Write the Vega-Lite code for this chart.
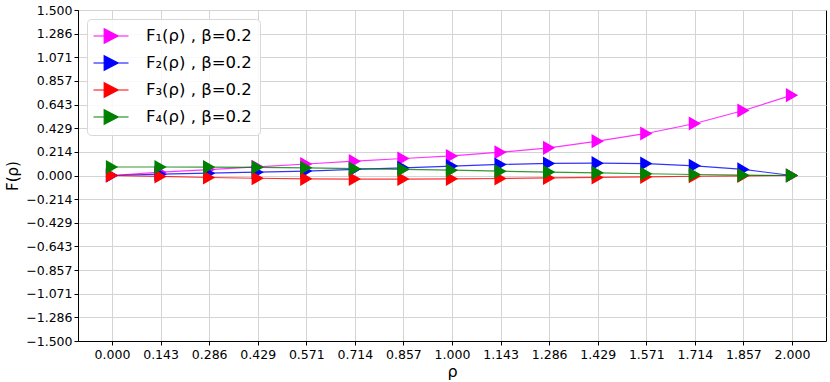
{
  "$schema": "https://vega.github.io/schema/vega-lite/v6.json",
  "width": 748,
  "height": 331,
  "autosize": "none",
  "padding": {"left": 78, "top": 10, "right": 4, "bottom": 41},
  "background": "white",
  "config": {
    "font": "DejaVu Sans",
    "view": {"stroke": "black", "strokeWidth": 1}
  },
  "datasets": {
    "pts": [
      {"rho": 0.0, "F": 0.0, "s": "F₁(ρ) , β=0.2"},
      {"rho": 0.142857, "F": 0.03, "s": "F₁(ρ) , β=0.2"},
      {"rho": 0.285714, "F": 0.054, "s": "F₁(ρ) , β=0.2"},
      {"rho": 0.428571, "F": 0.079, "s": "F₁(ρ) , β=0.2"},
      {"rho": 0.571429, "F": 0.104, "s": "F₁(ρ) , β=0.2"},
      {"rho": 0.714286, "F": 0.13, "s": "F₁(ρ) , β=0.2"},
      {"rho": 0.857143, "F": 0.154, "s": "F₁(ρ) , β=0.2"},
      {"rho": 1.0, "F": 0.177, "s": "F₁(ρ) , β=0.2"},
      {"rho": 1.142857, "F": 0.211, "s": "F₁(ρ) , β=0.2"},
      {"rho": 1.285714, "F": 0.251, "s": "F₁(ρ) , β=0.2"},
      {"rho": 1.428571, "F": 0.311, "s": "F₁(ρ) , β=0.2"},
      {"rho": 1.571429, "F": 0.381, "s": "F₁(ρ) , β=0.2"},
      {"rho": 1.714286, "F": 0.471, "s": "F₁(ρ) , β=0.2"},
      {"rho": 1.857143, "F": 0.589, "s": "F₁(ρ) , β=0.2"},
      {"rho": 2.0, "F": 0.728, "s": "F₁(ρ) , β=0.2"},
      {"rho": 0.0, "F": 0.0, "s": "F₂(ρ) , β=0.2"},
      {"rho": 0.142857, "F": 0.012, "s": "F₂(ρ) , β=0.2"},
      {"rho": 0.285714, "F": 0.021, "s": "F₂(ρ) , β=0.2"},
      {"rho": 0.428571, "F": 0.03, "s": "F₂(ρ) , β=0.2"},
      {"rho": 0.571429, "F": 0.04, "s": "F₂(ρ) , β=0.2"},
      {"rho": 0.714286, "F": 0.056, "s": "F₂(ρ) , β=0.2"},
      {"rho": 0.857143, "F": 0.07, "s": "F₂(ρ) , β=0.2"},
      {"rho": 1.0, "F": 0.085, "s": "F₂(ρ) , β=0.2"},
      {"rho": 1.142857, "F": 0.1, "s": "F₂(ρ) , β=0.2"},
      {"rho": 1.285714, "F": 0.109, "s": "F₂(ρ) , β=0.2"},
      {"rho": 1.428571, "F": 0.112, "s": "F₂(ρ) , β=0.2"},
      {"rho": 1.571429, "F": 0.108, "s": "F₂(ρ) , β=0.2"},
      {"rho": 1.714286, "F": 0.088, "s": "F₂(ρ) , β=0.2"},
      {"rho": 1.857143, "F": 0.055, "s": "F₂(ρ) , β=0.2"},
      {"rho": 2.0, "F": 0.0, "s": "F₂(ρ) , β=0.2"},
      {"rho": 0.0, "F": 0.0, "s": "F₃(ρ) , β=0.2"},
      {"rho": 0.142857, "F": -0.008, "s": "F₃(ρ) , β=0.2"},
      {"rho": 0.285714, "F": -0.018, "s": "F₃(ρ) , β=0.2"},
      {"rho": 0.428571, "F": -0.025, "s": "F₃(ρ) , β=0.2"},
      {"rho": 0.571429, "F": -0.03, "s": "F₃(ρ) , β=0.2"},
      {"rho": 0.714286, "F": -0.032, "s": "F₃(ρ) , β=0.2"},
      {"rho": 0.857143, "F": -0.032, "s": "F₃(ρ) , β=0.2"},
      {"rho": 1.0, "F": -0.03, "s": "F₃(ρ) , β=0.2"},
      {"rho": 1.142857, "F": -0.027, "s": "F₃(ρ) , β=0.2"},
      {"rho": 1.285714, "F": -0.022, "s": "F₃(ρ) , β=0.2"},
      {"rho": 1.428571, "F": -0.017, "s": "F₃(ρ) , β=0.2"},
      {"rho": 1.571429, "F": -0.012, "s": "F₃(ρ) , β=0.2"},
      {"rho": 1.714286, "F": -0.007, "s": "F₃(ρ) , β=0.2"},
      {"rho": 1.857143, "F": -0.003, "s": "F₃(ρ) , β=0.2"},
      {"rho": 2.0, "F": 0.0, "s": "F₃(ρ) , β=0.2"},
      {"rho": 0.0, "F": 0.077, "s": "F₄(ρ) , β=0.2"},
      {"rho": 0.142857, "F": 0.077, "s": "F₄(ρ) , β=0.2"},
      {"rho": 0.285714, "F": 0.076, "s": "F₄(ρ) , β=0.2"},
      {"rho": 0.428571, "F": 0.074, "s": "F₄(ρ) , β=0.2"},
      {"rho": 0.571429, "F": 0.07, "s": "F₄(ρ) , β=0.2"},
      {"rho": 0.714286, "F": 0.062, "s": "F₄(ρ) , β=0.2"},
      {"rho": 0.857143, "F": 0.055, "s": "F₄(ρ) , β=0.2"},
      {"rho": 1.0, "F": 0.048, "s": "F₄(ρ) , β=0.2"},
      {"rho": 1.142857, "F": 0.039, "s": "F₄(ρ) , β=0.2"},
      {"rho": 1.285714, "F": 0.031, "s": "F₄(ρ) , β=0.2"},
      {"rho": 1.428571, "F": 0.024, "s": "F₄(ρ) , β=0.2"},
      {"rho": 1.571429, "F": 0.016, "s": "F₄(ρ) , β=0.2"},
      {"rho": 1.714286, "F": 0.009, "s": "F₄(ρ) , β=0.2"},
      {"rho": 1.857143, "F": 0.003, "s": "F₄(ρ) , β=0.2"},
      {"rho": 2.0, "F": 0.0, "s": "F₄(ρ) , β=0.2"}
    ]
  },
  "data": {"name": "pts"},
  "encoding": {
    "x": {
      "field": "rho", "type": "quantitative",
      "scale": {"domain": [-0.1, 2.1], "nice": false, "zero": false},
      "axis": {
        "title": "ρ", "titleFontSize": 16, "titleFontWeight": "normal", "titleColor": "black", "titlePadding": 3,
        "values": [0, 0.142857, 0.285714, 0.428571, 0.571429, 0.714286, 0.857143, 1.0, 1.142857, 1.285714, 1.428571, 1.571429, 1.714286, 1.857143, 2.0],
        "format": ".3f", "labelFontSize": 12.5, "labelColor": "black", "labelPadding": 3,
        "tickColor": "black", "tickSize": 4, "domainColor": "black",
        "grid": true, "gridColor": "#d4d4d4", "gridWidth": 1
      }
    },
    "y": {
      "field": "F", "type": "quantitative",
      "scale": {"domain": [-1.5, 1.5], "nice": false, "zero": false},
      "axis": {
        "title": "F(ρ)", "titleFontSize": 15, "titleFontWeight": "normal", "titleColor": "black", "titlePadding": 5,
        "values": [-1.5, -1.285714, -1.071429, -0.857143, -0.642857, -0.428571, -0.214286, 0, 0.214286, 0.428571, 0.642857, 0.857143, 1.071429, 1.285714, 1.5],
        "format": ".3f", "labelFontSize": 12.5, "labelColor": "black", "labelPadding": 2,
        "tickColor": "black", "tickSize": 4, "domainColor": "black",
        "grid": true, "gridColor": "#d4d4d4", "gridWidth": 1
      }
    },
    "color": {
      "field": "s", "type": "nominal",
      "scale": {"domain": ["F₁(ρ) , β=0.2", "F₂(ρ) , β=0.2", "F₃(ρ) , β=0.2", "F₄(ρ) , β=0.2"], "range": ["#ff00ff", "#0000ff", "#ff0000", "#008000"]},
      "legend": {
        "title": null, "orient": "top-left", "offset": 9,
        "symbolType": "M-2.19,0H2.19M-0.85,-0.9L0.9,0L-0.85,0.9Z",
        "symbolSize": 256, "symbolStrokeWidth": 1.2, "symbolOpacity": 1, "symbolOffset": 7,
        "labelFontSize": 16.5, "labelColor": "black", "labelOffset": 26,
        "rowPadding": 7, "padding": 8,
        "fillColor": "rgba(255,255,255,0.85)", "strokeColor": "#d8d8d8", "cornerRadius": 4
      }
    }
  },
  "layer": [
    {
      "mark": {"type": "line", "strokeWidth": 1.2, "opacity": 0.8}
    },
    {
      "mark": {"type": "point", "filled": true, "shape": "triangle-right", "size": 200, "opacity": 1}
    }
  ]
}
